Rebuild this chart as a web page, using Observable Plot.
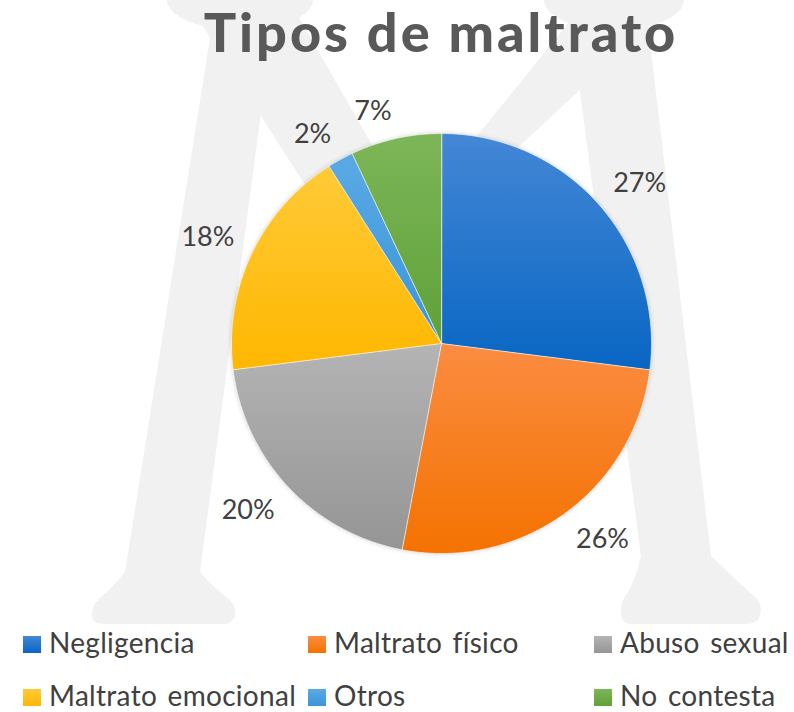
<!DOCTYPE html>
<html>
<head>
<meta charset="utf-8">
<script src="https://cdn.jsdelivr.net/npm/d3@7"></script>
<script src="https://cdn.jsdelivr.net/npm/@observablehq/plot@0.6"></script>
<style>
  html, body { margin: 0; padding: 0; background: #fff; }
  #wrap { position: relative; width: 794px; height: 712px; overflow: hidden; background: #fff; font-family: Lato, "Open Sans", sans-serif; }
  #bg { position: absolute; left: 0; top: 0; }
  #title { position: absolute; left: 88px; top: 5px; width: 706px; text-align: center; font-size: 54px; line-height: 54px; font-weight: 900; color: #595959; letter-spacing: 3px; white-space: nowrap; }
  #chart { position: absolute; left: 0; top: 70px; }
  #chart svg g[aria-label="geo"] { filter: drop-shadow(0 0 2px rgba(0,0,0,0.18)); }
  .item { position: absolute; font-size: 28px; line-height: 28px; color: #404040; white-space: nowrap; letter-spacing: 0.3px; word-spacing: 3px; }
  .sw { display: inline-block; width: 18px; height: 17px; margin-right: 8px; vertical-align: baseline; }
</style>
</head>
<body>
<div id="wrap">
  <svg id="bg" width="794" height="712">
    <defs id="defs"></defs>
    <g fill="#f1f1f1">
      <ellipse cx="240" cy="0" rx="73" ry="30"></ellipse>
      <ellipse cx="614" cy="0" rx="70" ry="30"></ellipse>
      <path d="M216 0 L276 0 L200 572 Q214 588 230 600 Q238 610 234 618 Q231 624 222 624 L104 624 Q93 624 92 616 Q91 606 100 598 Q114 586 125 572 Z"></path>
      <path d="M186 0 L289 0 L484 340 L405 340 Z"></path>
      <path d="M568 0 L645 0 L711 556 Q736 580 756 598 Q763 606 760 616 Q757 624 746 624 L632 624 Q622 624 621 614 Q620 602 628 592 Q636 578 641 556 Z"></path>
      <path d="M587 0 L677 0 L316 335 Z"></path>
    </g>
  </svg>
  <div id="title">Tipos de maltrato</div>
  <div id="chart"></div>
  <div id="legend"></div>
</div>
<script>
// ---- data ----
const categories = ["Negligencia", "Maltrato físico", "Abuso sexual", "Maltrato emocional", "Otros", "No contesta"];
const values = [27, 26, 20, 18, 2, 7];
const labels = ["27%", "26%", "20%", "18%", "2%", "7%"];
const colorTop = ["#4487d6", "#fb8c42", "#b4b4b4", "#ffca38", "#5aaae4", "#7db658"];
const colorBottom = ["#0866c3", "#f47200", "#959595", "#ffb700", "#3a95d8", "#5fa139"];

// gradients
const defs = d3.select("#defs");
categories.forEach((c, i) => {
  const g = defs.append("linearGradient").attr("id", "grad" + i)
    .attr("x1", 0).attr("y1", 0).attr("x2", 0).attr("y2", 1);
  g.append("stop").attr("offset", "0%").attr("stop-color", colorTop[i]);
  g.append("stop").attr("offset", "100%").attr("stop-color", colorBottom[i]);
});

// pie geometry (angles clockwise from 12 o'clock)
const arcs = d3.pie().sort(null).value(d => d)(values);
const features = arcs.map((a, i) => {
  const ring = [[0, 0]];
  const n = Math.max(2, Math.ceil((a.endAngle - a.startAngle) / (Math.PI / 360)));
  for (let k = 0; k <= n; ++k) {
    const t = a.startAngle + (a.endAngle - a.startAngle) * k / n;
    ring.push([Math.sin(t), -Math.cos(t)]);
  }
  ring.push([0, 0]);
  return {type: "Feature", properties: {name: categories[i]}, geometry: {type: "Polygon", coordinates: [ring]}};
});
// "outside end" labels: anchored just beyond the rim, box corner toward the pie
const labelRadius = 1.09;
const labelData = arcs.map((a, i) => {
  const m = (a.startAngle + a.endAngle) / 2;
  const ux = Math.sin(m), uy = -Math.cos(m);
  return {x: labelRadius * ux, y: labelRadius * uy, label: labels[i], right: ux >= 0, below: uy >= 0};
});
const textOpts = {fontSize: 27, fill: "#404040", fontFamily: "Lato, 'Open Sans', sans-serif"};
const labelMarks = [];
for (const right of [true, false]) {
  for (const below of [true, false]) {
    const subset = labelData.filter(d => d.right === right && d.below === below);
    if (!subset.length) continue;
    labelMarks.push(Plot.text(subset, {
      x: "x", y: "y", text: "label", ...textOpts,
      textAnchor: right ? "start" : "end",
      lineAnchor: below ? "top" : "bottom"
    }));
  }
}

const chart = Plot.plot({
  width: 794,
  height: 546,
  margin: 0,
  marginLeft: 88,
  projection: {type: "identity", domain: {type: "MultiPoint", coordinates: [[-1.3, -1.3], [1.3, 1.3]]}},
  color: {domain: categories, range: categories.map((c, i) => `url(#grad${i})`)},
  style: {background: "transparent", overflow: "visible"},
  marks: [
    Plot.geo(features, {fill: d => d.properties.name, stroke: "#ffffff", strokeWidth: 1, strokeOpacity: 0.6}),
    ...labelMarks
  ]
});
document.getElementById("chart").appendChild(chart);

// legend
const colX = [23, 308, 594];
const rowTop = [628, 681];
const legend = document.getElementById("legend");
categories.forEach((c, i) => {
  const col = i % 3, row = Math.floor(i / 3);
  const item = document.createElement("div");
  item.className = "item";
  item.style.left = colX[col] + "px";
  item.style.top = rowTop[row] + "px";
  const sw = document.createElement("span");
  sw.className = "sw";
  sw.style.background = `linear-gradient(${colorTop[i]}, ${colorBottom[i]})`;
  item.appendChild(sw);
  item.appendChild(document.createTextNode(c));
  legend.appendChild(item);
});
</script>
</body>
</html>
